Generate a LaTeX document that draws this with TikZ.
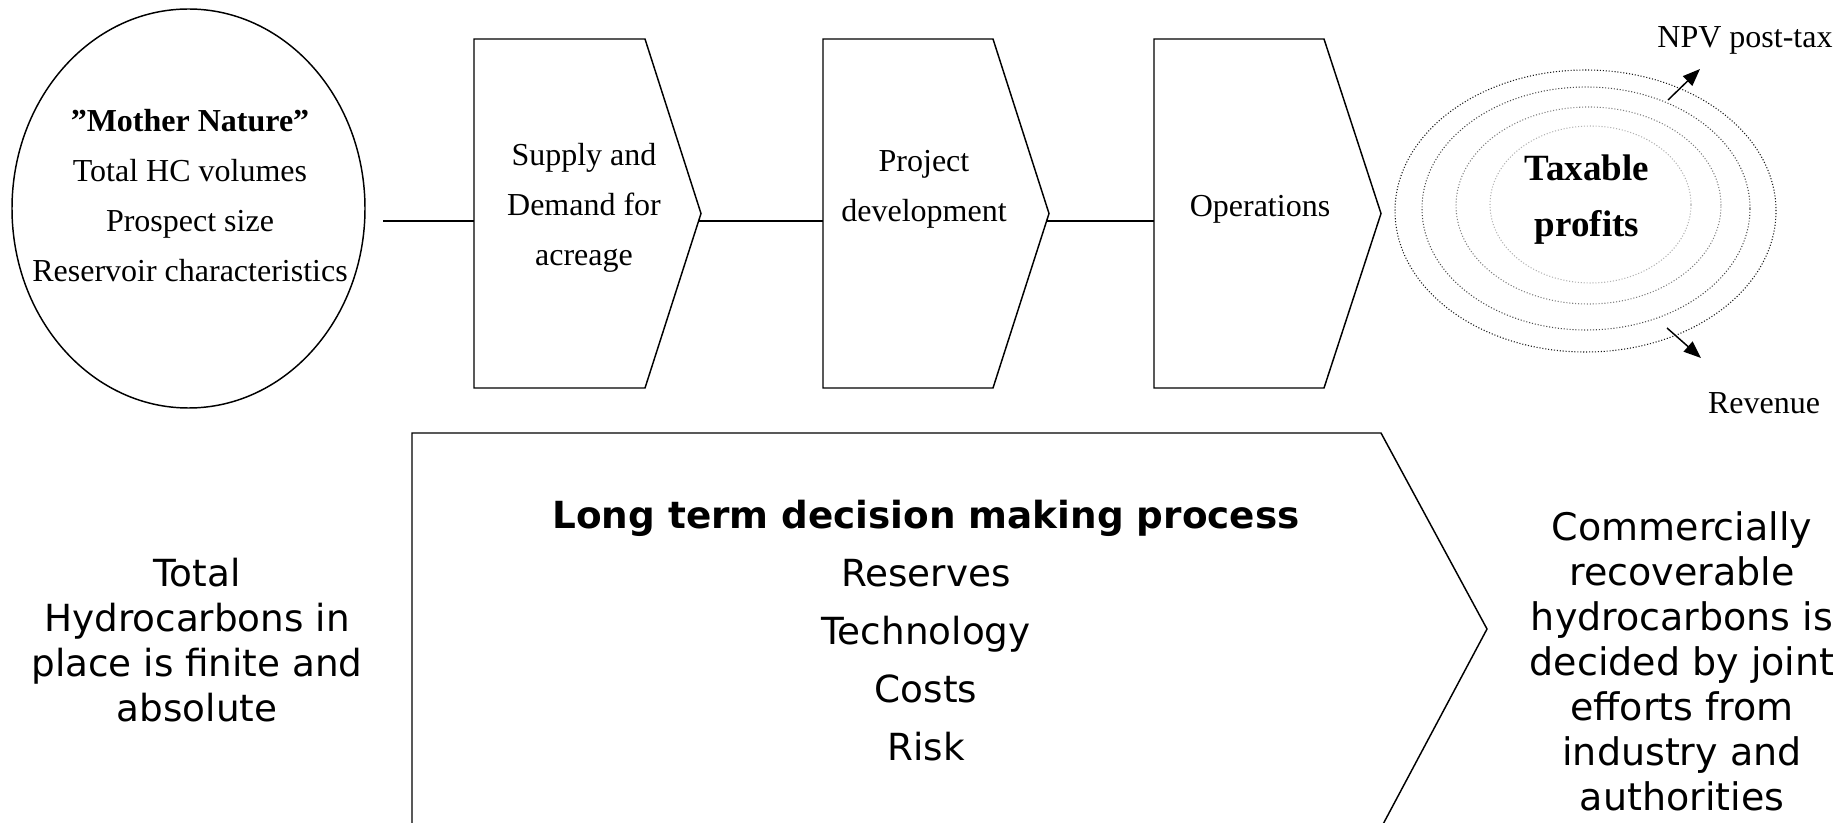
\documentclass[tikz,border=0pt]{standalone}
\usepackage{fontspec}
\setmainfont{Liberation Serif}
\newfontfamily\verd{DejaVu Sans}
\usetikzlibrary{shapes.geometric,arrows.meta}

\begin{document}
\begin{tikzpicture}[x=0.75pt,y=-0.75pt,
  outline/.style={draw=black,line width=1.1pt,line join=miter},
  conn/.style={draw=black,line width=1.1pt},
  serif/.style={align=center,inner sep=0pt,font=\fontsize{24pt}{37.5pt}\selectfont},
  sans/.style={align=center,inner sep=0pt,font=\verd\fontsize{28pt}{33.75pt}\selectfont},
  ring/.style={ellipse,draw=#1,line width=0.8pt,dash pattern=on 0.8pt off 1.4pt,inner sep=0pt},
  outarrow/.style={draw=black,line width=1.1pt,-{Triangle[length=13pt,width=10pt]}}]
\useasboundingbox (0,0) rectangle (1848,823);

% "Mother Nature" circle
\node[ellipse,draw=black,line width=1.1pt,minimum width=264.75pt,minimum height=299.25pt,inner sep=0pt] (nature) at (188.5,208.5) {};
\node[serif] (naturetext) at (190,196)
  {\textbf{”Mother Nature”}\\Total HC volumes\\Prospect size\\Reservoir characteristics};

% process chevrons
\draw[outline] (474,39) -- (645,39) -- (701,213.5) coordinate (tipA) -- (645,388) -- (474,388) -- cycle;
\draw[outline] (823,39) -- (993,39) -- (1049,213.5) coordinate (tipB) -- (993,388) -- (823,388) -- cycle;
\draw[outline] (1154,39) -- (1324,39) -- (1381,213.5) coordinate (tipC) -- (1324,388) -- (1154,388) -- cycle;

\node[serif] (supply) at (584,207.5) {Supply and\\Demand for\\acreage};
\node[serif] (project) at (924,189) {Project\\development};
\node[serif] (ops) at (1260,209) {Operations};

% connectors along the chain
\coordinate (natureout) at (383,221);
\coordinate (inA) at (474,221);
\coordinate (outA) at (698.5,221);
\coordinate (inB) at (823,221);
\coordinate (outB) at (1046.5,221);
\coordinate (inC) at (1154,221);
\draw[conn] (natureout) -- (inA);
\draw[conn] (outA) -- (inB);
\draw[conn] (outB) -- (inC);

% profit rings
\node[ring=black!90,minimum width=285.75pt,minimum height=211.5pt] (ring1) at (1585.5,211) {};
\node[ring=black!70,minimum width=246pt,minimum height=182.25pt] (ring2) at (1586,208.5) {};
\node[ring=black!50,minimum width=198.75pt,minimum height=147.75pt] (ring3) at (1588.5,205.5) {};
\node[ring=black!30,minimum width=150.75pt,minimum height=117.75pt] (ring4) at (1590.5,204.5) {};
\node[align=center,inner sep=0pt,font=\fontsize{27.75pt}{42pt}\selectfont\bfseries] (profits) at (1587,200) {Taxable\\profits};

\node[serif] (npv) at (1745,40) {NPV post-tax};
\node[serif] (revenue) at (1764,403) {Revenue};
\coordinate (npvfrom) at (1668,100);
\coordinate (npvto) at (1700,69);
\coordinate (revfrom) at (1667,328);
\coordinate (revto) at (1701,358);
\draw[outarrow] (npvfrom) -- (npvto);
\draw[outarrow] (revfrom) -- (revto);

% long term decision chevron
\draw[outline] (412,828) -- (412,433) -- (1381,433) -- (1487,629) coordinate (bigtip) -- (1381,828);
\node[align=center,inner sep=0pt,font=\verd\fontsize{28pt}{43.5pt}\selectfont] (decision) at (926,631)
  {\textbf{Long term decision making process}\\Reserves\\Technology\\Costs\\Risk};

\node[sans] (finite) at (197,640) {Total\\Hydrocarbons in\\place is finite and\\absolute};
\node[sans,font=\verd\fontsize{28.5pt}{33.75pt}\selectfont] (commercial) at (1682,661) {Commercially\\recoverable\\hydrocarbons is\\decided by joint\\efforts from\\industry and\\authorities};
\end{tikzpicture}
\end{document}
